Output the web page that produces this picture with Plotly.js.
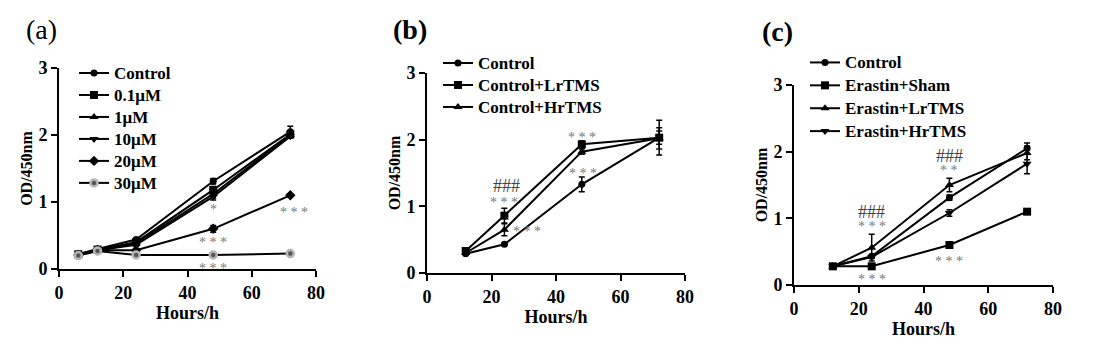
<!DOCTYPE html>
<html>
<head>
<meta charset="utf-8">
<script src="https://cdn.plot.ly/plotly-3.0.1.min.js"></script>
<style>html,body{margin:0;padding:0;background:#fff;}#chart{width:1104px;height:353px;}</style>
</head>
<body>
<div id="chart"></div>
<script>
// ---------- Panel (a) ----------
const hoursA = [6, 12, 24, 48, 72];
const namesA = ['Control', '0.1μM', '1μM', '10μM', '20μM', '30μM'];
const symbolsA = ['circle', 'square', 'triangle-up', 'triangle-down', 'diamond', 'circle'];
const valuesA = [
  [0.22, 0.30, 0.44, 1.31, 2.05],
  [0.22, 0.29, 0.40, 1.18, 2.01],
  [0.21, 0.28, 0.38, 1.12, 2.00],
  [0.21, 0.28, 0.36, 1.08, 1.98],
  [0.21, 0.28, 0.28, 0.60, 1.10],
  [0.20, 0.27, 0.21, 0.21, 0.23]
];
const errorsA = [
  [0.02, 0.02, 0.02, 0.04, 0.08],
  [0.02, 0.02, 0.02, 0.05, 0.04],
  [0.02, 0.02, 0.02, 0.06, 0.03],
  [0.02, 0.02, 0.02, 0.05, 0.03],
  [0.02, 0.02, 0.02, 0.05, 0.02],
  [0.02, 0.02, 0.02, 0.02, 0.02]
];
const annTextA = ['*', '* * *', '* * *', '* * *'];
const annXA = [48, 48, 73, 48];
const annYA = [0.89, 0.39, 0.84, 0.01];

// ---------- Panel (b) ----------
const hoursB = [12, 24, 48, 72];
const namesB = ['Control', 'Control+LrTMS', 'Control+HrTMS'];
const symbolsB = ['circle', 'square', 'triangle-up'];
const valuesB = [
  [0.29, 0.43, 1.33, 2.03],
  [0.33, 0.86, 1.93, 2.03],
  [0.30, 0.65, 1.82, 2.02]
];
const errorsB = [
  [0.02, 0.02, 0.11, 0.10],
  [0.02, 0.11, 0.05, 0.26],
  [0.02, 0.09, 0.04, 0.16]
];
const annTextB = ['###', '* * *', '* * *', '* * *', '* * *'];
const annXB = [24.5, 24, 48, 48.5, 31];
const annYB = [1.31, 1.06, 2.04, 1.50, 0.63];

// ---------- Panel (c) ----------
const hoursC = [12, 24, 48, 72];
const namesC = ['Control', 'Erastin+Sham', 'Erastin+LrTMS', 'Erastin+HrTMS'];
const symbolsC = ['circle', 'square', 'triangle-up', 'triangle-down'];
const valuesC = [
  [0.28, 0.43, 1.31, 2.05],
  [0.28, 0.28, 0.60, 1.10],
  [0.28, 0.56, 1.50, 1.98],
  [0.28, 0.42, 1.08, 1.82]
];
const errorsC = [
  [0.02, 0.02, 0.04, 0.08],
  [0.02, 0.02, 0.03, 0.02],
  [0.02, 0.20, 0.10, 0.10],
  [0.02, 0.02, 0.05, 0.15]
];
const annTextC = ['###', '* * *', '* * *', '###', '* *', '* * *'];
const annXC = [24, 24, 24, 48, 48, 48];
const annYC = [1.10, 0.88, 0.09, 1.94, 1.72, 0.35];

const panelLabels = ['(a)', '(b)', '(c)'];

// ---------- build ----------
const FONT = '"Liberation Serif", "Times New Roman", serif';
const traces = [];
function addPanel(hours, names, symbols, values, errors, xa, ya, leg, grayIdx) {
  names.forEach((n, i) => {
    const gray = (i === grayIdx);
    traces.push({
      type: 'scatter', mode: 'lines+markers',
      name: '<span style="font-size:17px">' + n + '</span>',
      x: hours, y: values[i], xaxis: xa, yaxis: ya, legend: leg,
      line: {color: '#000', width: 2},
      marker: {symbol: symbols[i], size: symbols[i] === 'circle' ? 7 : 8,
               color: gray ? '#555' : '#000',
               line: {color: gray ? '#b5b5b5' : '#000', width: gray ? 2.5 : 0}},
      error_y: {type: 'data', array: errors[i], visible: true, color: '#000', thickness: 1.5, width: 3}
    });
  });
}
addPanel(hoursA, namesA, symbolsA, valuesA, errorsA, 'x', 'y', 'legend', 5);
addPanel(hoursB, namesB, symbolsB, valuesB, errorsB, 'x2', 'y2', 'legend2', -1);
addPanel(hoursC, namesC, symbolsC, valuesC, errorsC, 'x3', 'y3', 'legend3', -1);

const annotations = [];
function addAnn(texts, xs, ys, xr, yr) {
  texts.forEach((t, i) => {
    const hash = t.indexOf('#') >= 0;
    annotations.push({xref: xr, yref: yr, x: xs[i], y: ys[i], text: t, showarrow: false,
      font: {family: FONT, size: hash ? 18 : 14, color: hash ? '#444' : '#777'}});
  });
}
addAnn(annTextA, annXA, annYA, 'x', 'y');
addAnn(annTextB, annXB, annYB, 'x2', 'y2');
addAnn(annTextC, annXC, annYC, 'x3', 'y3');

// panel labels
const labelPos = [[24, 30, false], [391, 29, true], [760, 31, true]];
panelLabels.forEach((t, i) => {
  annotations.push({xref: 'paper', yref: 'paper', x: labelPos[i][0] / 1104, y: 1 - labelPos[i][1] / 353,
    xanchor: 'left', yanchor: 'middle', showarrow: false,
    text: labelPos[i][2] ? '<b>' + t + '</b>' : t,
    font: {family: FONT, size: 28, color: '#000'}});
});

function xax(dom, anchor) {
  return {domain: dom, anchor: anchor, range: [0, 80], tickvals: [0, 20, 40, 60, 80],
    showline: true, linewidth: 2, linecolor: '#000', ticks: 'outside', ticklen: 6, tickwidth: 2, tickcolor: '#000',
    showgrid: false, zeroline: false, fixedrange: true,
    tickfont: {family: FONT, size: 18, color: '#000', weight: 'bold'},
    title: {text: '<b>Hours/h</b>', font: {family: FONT, size: 18, color: '#000'}, standoff: 4}};
}
function yax(dom, anchor) {
  return {domain: dom, anchor: anchor, range: [0, 3], tickvals: [0, 1, 2, 3],
    showline: true, linewidth: 2, linecolor: '#000', ticks: 'outside', ticklen: 6, tickwidth: 2, tickcolor: '#000',
    showgrid: false, zeroline: false, fixedrange: true,
    tickfont: {family: FONT, size: 18, color: '#000', weight: 'bold'},
    title: {text: '<b>OD/450nm</b>', font: {family: FONT, size: 16, color: '#000'}, standoff: 2}};
}
function leg(xpx, ypx, fs) {
  return {x: xpx / 1104, y: 1 - ypx / 353, xanchor: 'left', yanchor: 'top',
    bgcolor: 'rgba(0,0,0,0)', borderwidth: 0, tracegroupgap: 0, itemwidth: 30,
    font: {family: FONT, size: fs, color: '#000', weight: 'bold'}};
}

const layout = {
  width: 1104, height: 353, margin: {l: 0, r: 0, t: 0, b: 0},
  paper_bgcolor: '#fff', plot_bgcolor: '#fff', showlegend: true,
  xaxis: xax([59 / 1104, 316 / 1104], 'y'),
  yaxis: yax([1 - 269 / 353, 1 - 68 / 353], 'x'),
  xaxis2: xax([427 / 1104, 685 / 1104], 'y2'),
  yaxis2: yax([1 - 273 / 353, 1 - 73 / 353], 'x2'),
  xaxis3: xax([794 / 1104, 1053 / 1104], 'y3'),
  yaxis3: yax([1 - 285 / 353, 1 - 85 / 353], 'x3'),
  legend: leg(74, 57, 14.6),
  legend2: leg(438, 47, 14.6),
  legend3: leg(805, 46, 15.3),
  annotations: annotations
};
Plotly.newPlot('chart', traces, layout, {staticPlot: true, displayModeBar: false});
</script>
</body>
</html>
